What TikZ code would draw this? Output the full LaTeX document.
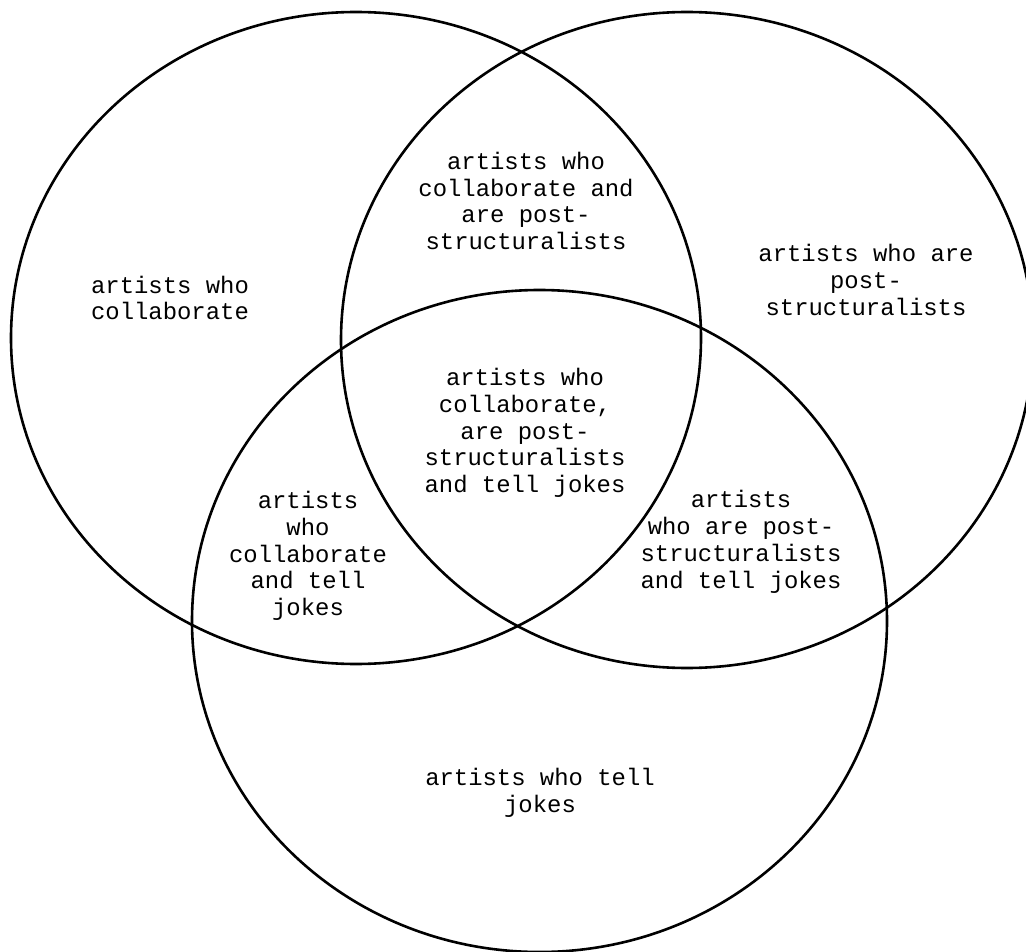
\documentclass[tikz,border=0pt]{standalone}
\usepackage{fontspec}
\setmonofont{Liberation Mono}
\begin{document}
\begin{tikzpicture}[x=1pt,y=-1pt,
  setring/.style={draw=black,line width=2.6pt},
  lbl/.style={align=center,inner sep=0pt,font=\ttfamily\fontsize{23.9}{26.8}\selectfont}]
\useasboundingbox (0,0) rectangle (1026,952);
\draw[setring] (356,338) ellipse [x radius=345, y radius=326];
\draw[setring] (687,340) ellipse [x radius=346, y radius=328];
\draw[setring] (539.5,621) ellipse [x radius=347.5, y radius=331];
\node[lbl] (a) at (170,298) {artists who\\collaborate};
\node[lbl] (b) at (866,280) {artists who are\\post-\\structuralists};
\node[lbl] (c) at (540,793) {artists who tell\\jokes};
\node[lbl] (ab) at (526,201) {artists who\\collaborate and\\are post-\\structuralists};
\node[lbl] (abc) at (525,433) {artists who\\collaborate,\\are post-\\structuralists\\and tell jokes};
\node[lbl] (ac) at (308,556) {artists\\who\\collaborate\\and tell\\jokes};
\node[lbl] (bc) at (741,542) {artists\\who are post-\\structuralists\\and tell jokes};
\end{tikzpicture}
\end{document}
